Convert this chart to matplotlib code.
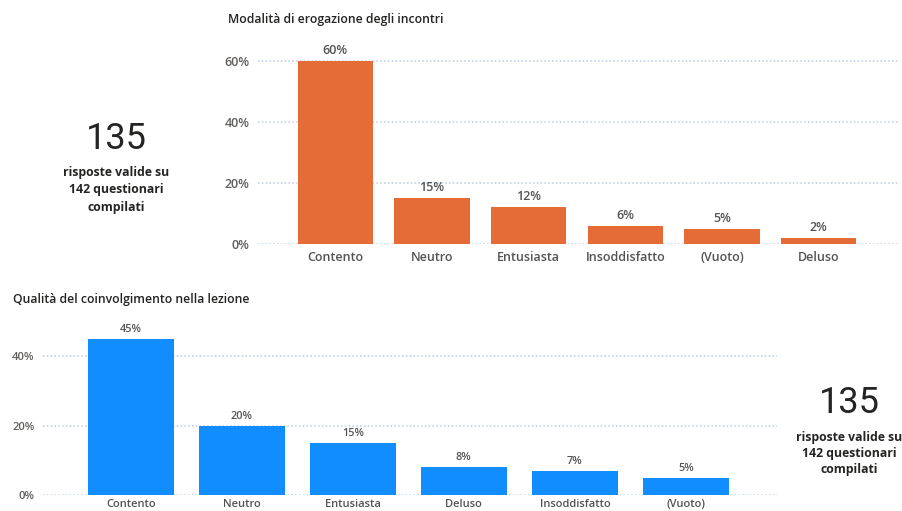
import matplotlib
matplotlib.use("Agg")
import matplotlib.pyplot as plt
from matplotlib.ticker import FuncFormatter

plt.rcParams['font.family'] = ['Open Sans', 'DejaVu Sans']

# Data
top_title = "Modalità di erogazione degli incontri"
top_categories = ["Contento", "Neutro", "Entusiasta", "Insoddisfatto", "(Vuoto)", "Deluso"]
top_values = [60, 15, 12, 6, 5, 2]
top_ticks = [0, 20, 40, 60]

bottom_title = "Qualità del coinvolgimento nella lezione"
bottom_categories = ["Contento", "Neutro", "Entusiasta", "Deluso", "Insoddisfatto", "(Vuoto)"]
bottom_values = [45, 20, 15, 8, 7, 5]
bottom_ticks = [0, 20, 40]

card_number = "135"
card_caption = "risposte valide su\n142 questionari\ncompilati"

W, H = 902, 511
fig = plt.figure(figsize=(W / 100, H / 100), dpi=100)
fig.patch.set_facecolor("white")


def px_axes(x0, y0, x1, y1):
    return fig.add_axes([x0 / W, 1 - y1 / H, (x1 - x0) / W, (y1 - y0) / H])


def bar_panel(ax, cats, vals, ticks, color, ylim, xlim, fs_tick, fs_val, width, xpad):
    x = range(len(cats))
    bars = ax.bar(x, vals, width=width, color=color, zorder=3)
    ax.set_xlim(*xlim)
    ax.set_ylim(*ylim)
    ax.set_yticks(ticks)
    ax.yaxis.set_major_formatter(FuncFormatter(lambda v, p: f"{int(v)}%"))
    ax.set_xticks(list(x))
    ax.set_xticklabels(cats, fontsize=fs_tick, color="#555453", fontweight="semibold")
    ax.tick_params(axis="y", labelsize=fs_tick, colors="#605E5C", length=0, pad=6)
    ax.tick_params(axis="x", length=0, pad=xpad)
    for lbl in ax.get_yticklabels():
        lbl.set_fontweight("semibold")
    ax.grid(axis="y", color="#b9cde0", linestyle=(0, (1, 1.5)), linewidth=1.1, zorder=0)
    for s in ax.spines.values():
        s.set_visible(False)
    ax.set_facecolor("none")
    for b, v in zip(bars, vals):
        ax.annotate(f"{v}%", (b.get_x() + b.get_width() / 2, v), xytext=(0, 3),
                    textcoords="offset points", ha="center", va="bottom",
                    fontsize=fs_val, color="#555453", fontweight="semibold")


# Top chart
ax1 = px_axes(258, 52, 900, 244)
bar_panel(ax1, top_categories, top_values, top_ticks, "#E66C37",
          (0, 60 * 192 / 183), (-0.80, 5.84), 9.0, 9.0, 0.78, 5)
fig.text(228 / W, 1 - 20 / H, top_title, fontsize=8.8, fontweight="semibold",
         color="#252423", ha="left", va="center")

# Bottom chart
ax2 = px_axes(43, 327, 777, 495)
bar_panel(ax2, bottom_categories, bottom_values, bottom_ticks, "#118DFF",
          (0, 45 * 168 / 156), (-0.79, 5.82), 8.0, 7.8, 0.775, 3)
fig.text(13 / W, 1 - 300 / H, bottom_title, fontsize=8.8, fontweight="semibold",
         color="#252423", ha="left", va="center")

# Cards
for cx, ny, cy, ls in [(116, 139, 190, 1.45), (849, 403, 453, 1.3)]:
    fig.text(cx / W, 1 - ny / H, card_number, fontsize=26, fontweight="normal",
             family=["Roboto", "DejaVu Sans"], color="#252423",
             ha="center", va="center")
    fig.text(cx / W, 1 - cy / H, card_caption, fontsize=8.8, fontweight="bold",
             color="#252423", ha="center", va="center", linespacing=ls)

fig.savefig("out.png", dpi=100, facecolor="white")
